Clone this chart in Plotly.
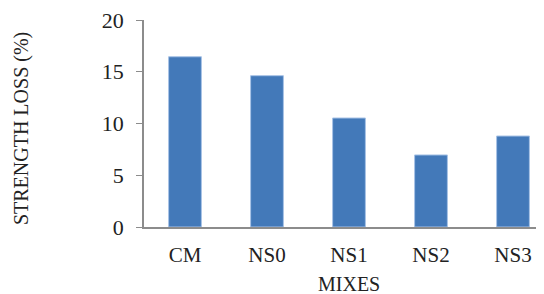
import plotly.graph_objects as go

categories = ["CM", "NS0", "NS1", "NS2", "NS3"]
strength_loss = [16.45, 14.62, 10.53, 6.96, 8.79]
y_ticks = [0, 5, 10, 15, 20]

font = "Liberation Serif, Times New Roman, serif"

fig = go.Figure(go.Bar(
    x=categories, y=strength_loss, width=0.4,
    marker=dict(color="#4379B9", line=dict(color="#a8c3e6", width=1)),
))

fig.update_layout(
    width=544, height=294,
    margin=dict(l=136, r=8, t=12, b=75),
    paper_bgcolor="white", plot_bgcolor="white",
    showlegend=False,
    font=dict(family=font, size=21, color="#222222"),
    xaxis=dict(
        range=[-0.5, 4.378], showgrid=False, showline=True, automargin=False,
        linecolor="#8c8c8c", linewidth=1.5, ticks="",
        tickfont=dict(size=21), ticklabelstandoff=8,
    ),
    yaxis=dict(
        range=[0, 20], tickvals=y_ticks, showgrid=False, showline=True,
        automargin=False, ticklabeloverflow="allow",
        linecolor="#8c8c8c", linewidth=1.5, ticks="outside", ticklen=6,
        tickcolor="#8c8c8c", tickfont=dict(size=22), ticklabelstandoff=8,
        zeroline=False,
    ),
    annotations=[
        dict(text="MIXES", xref="paper", yref="paper", x=0.5125, y=-0.275,
             xanchor="center", yanchor="middle", showarrow=False,
             font=dict(size=20)),
        dict(text="STRENGTH LOSS (%)", xref="paper", yref="paper",
             x=-136/400, xshift=13, y=0.473, xanchor="center", yanchor="middle",
             textangle=-90, showarrow=False, font=dict(size=20)),
    ],
)

fig.write_html("out.html")
